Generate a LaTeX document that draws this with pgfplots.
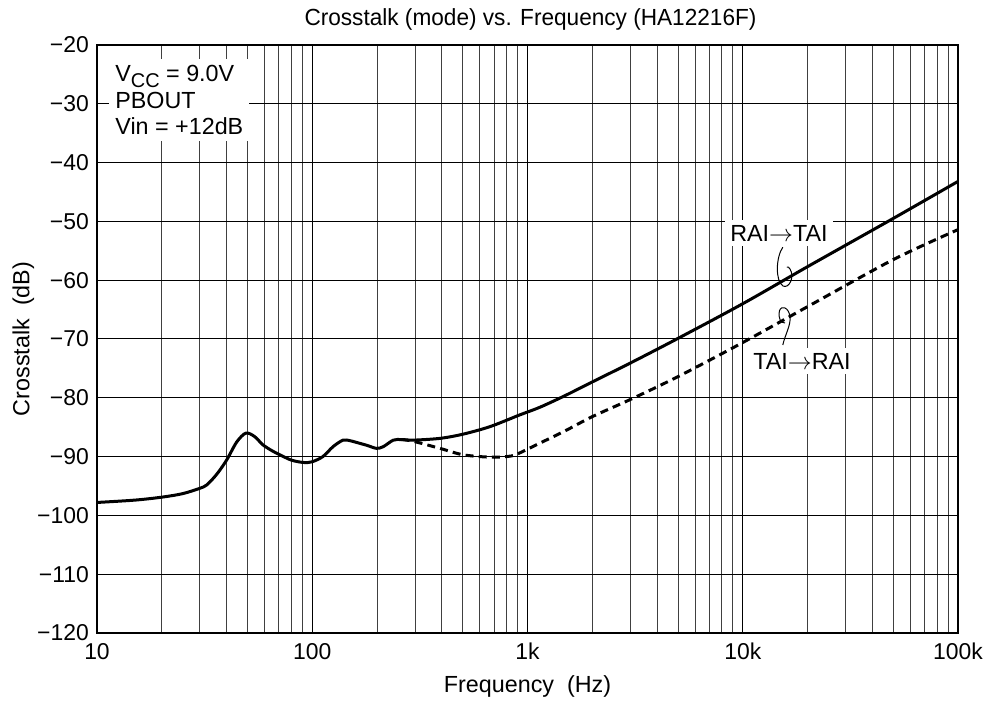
\documentclass[border=0pt]{standalone}
\usepackage{fontspec}
\setmainfont{Liberation Sans}
\usepackage{pgfplots}
\pgfplotsset{compat=1.18}

\begin{document}
\begin{tikzpicture}
\fontsize{11.7}{14}\selectfont
\useasboundingbox (-48.5bp,-35.5bp) rectangle (446bp,316.5bp);
\begin{axis}[
    scale only axis,
    width=430.5bp,
    height=294bp,
    at={(0,0)}, anchor=south west,
    xmode=log,
    xmin=10, xmax=100000,
    ymin=-120, ymax=-20,
    xtick={10,100,1000,10000,100000},
    xticklabels={10,100,1k,10k,100k},
    ytick={-120,-110,...,-20},
    yticklabels={−120,−110,−100,−90,−80,−70,−60,−50,−40,−30,−20},
    major tick length=0pt, minor tick length=0pt,
    xmajorgrids, xminorgrids, ymajorgrids,
    major grid style={black, line width=0.5bp},
    minor grid style={black!75, line width=0.45bp},
    axis line style={line width=0.8bp},
    tick label style={font=\fontsize{11.5}{13}\selectfont},
    xticklabel style={yshift=-1bp},
    title={\scalebox{0.97}[1]{Crosstalk (mode) vs. Frequency (HA12216F)}},
    title style={font=\fontsize{11.7}{13}\selectfont, yshift=-2.5bp, xshift=1.5bp},
    xlabel={Frequency\ \ (Hz)},
    ylabel={Crosstalk\ \ (dB)},
    label style={font=\fontsize{11.7}{13}\selectfont},
    xlabel style={yshift=0bp},
    ylabel style={yshift=-6.5bp},
]
% RAI -> TAI (solid)
\addplot[black, line width=1.5bp, smooth, tension=0.5] coordinates {
(10,-97.8) (15,-97.4) (20,-96.9) (25,-96.3) (30,-95.4) (32.4,-94.8)
(36,-93.0) (40,-90.6) (44.6,-87.5) (49.2,-86.0) (54,-86.6) (59,-88.0)
(65,-89.0) (70.8,-89.7) (80,-90.6) (90.8,-91.0) (99.5,-90.9) (112,-90.0)
(125,-88.3) (139,-87.2) (150,-87.3) (161,-87.6) (180,-88.1) (199,-88.6)
(214,-88.3) (238,-87.2) (260,-87.1) (295,-87.2) (392,-86.9) (500,-86.2)
(670,-84.9) (922,-82.9) (1143,-81.6) (1500,-79.6) (2000,-77.3)
(3000,-74.1) (5000,-69.9) (10000,-64.0) (20000,-57.7) (50000,-49.5)
(100000,-43.2)
};
% TAI -> RAI (dashed)
\addplot[black, line width=1.5bp, dash pattern=on 4bp off 2.6bp, smooth, tension=0.5] coordinates {
(260,-87.1) (295,-87.4) (392,-88.6) (503,-89.7) (670,-90.1) (800,-90.0)
(891,-89.6) (1143,-87.7) (1500,-85.6) (2000,-83.2) (3000,-80.3)
(5000,-76.4) (10000,-70.6) (20000,-64.5) (50000,-56.5) (100000,-51.4)
};
\end{axis}
% annotations
\node[fill=white, anchor=north west, align=left, inner sep=3bp,
      font=\fontsize{11.7}{13.3}\selectfont] at (6bp,287bp)
  {V\raisebox{-0.45ex}{\fontsize{10}{10}\selectfont CC} = 9.0V\\PBOUT\\Vin = +12dB};
\node[fill=white, inner sep=2.5bp] at (341bp,200bp) {RAI$\rightarrow$TAI};
\node[fill=white, inner sep=2.5bp] at (352.5bp,136bp) {TAI$\rightarrow$RAI};
\draw[line width=0.5bp] (342.9bp,192.9bp) .. controls (339.5bp,188bp) and (339bp,176bp) .. (343bp,173.5bp)
  .. controls (346bp,172bp) and (349bp,178bp) .. (346.5bp,182bp)
  .. controls (346bp,183bp) and (345.5bp,183bp) .. (344.9bp,183bp);
\draw[line width=0.5bp] (342.9bp,144bp) .. controls (344bp,149bp) and (347bp,154bp) .. (346.5bp,158bp)
  .. controls (346bp,163bp) and (342bp,164bp) .. (341.2bp,161bp)
  .. controls (340.5bp,157bp) and (342bp,155bp) .. (344bp,155bp);
\end{tikzpicture}
\end{document}
